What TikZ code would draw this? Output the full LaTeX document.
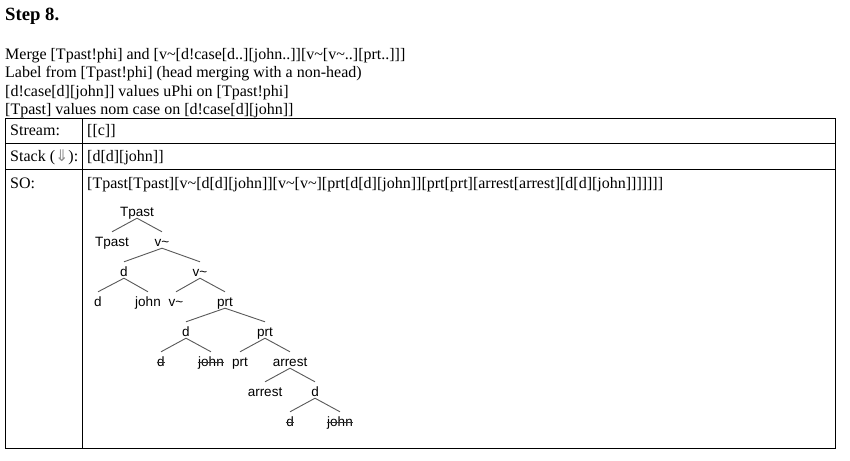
\documentclass[tikz,border=0pt]{standalone}
\usepackage{fontspec}
\setmainfont{Liberation Serif}
\newfontfamily\treefont{Liberation Sans}
\newfontfamily\symfont{DejaVu Sans}
\begin{document}
\begin{tikzpicture}[x=1pt,y=-1pt,
  txt/.style={anchor=base west, inner sep=0pt, font=\fontsize{16}{18}\selectfont},
  ttl/.style={anchor=base west, inner sep=0pt, font=\fontsize{18.7}{22}\selectfont\bfseries},
  tn/.style={anchor=base, inner sep=0pt, text height=14pt, text depth=2pt, font=\treefont\fontsize{13.5}{15}\selectfont, text=black},
  te/.style={draw=black!65, line width=0.9pt},
  strk/.style={draw=black!80, line width=0.7pt},
  gridline/.style={draw=black, line width=1pt}]
\useasboundingbox (0,0) rectangle (850,460);
\fill[white] (0,0) rectangle (850,460);

% header text
\node[ttl] (title) at (5,21) {Step 8.};
\node[txt] (l1) at (5,59.3) {Merge [Tpast!phi] and [v\textasciitilde[d!case[d..][john..]][v\textasciitilde[v\textasciitilde..][prt..]]]};
\node[txt] (l2) at (5,77.7) {Label from [Tpast!phi] (head merging with a non-head)};
\node[txt] (l3) at (5,96) {[d!case[d][john]] values uPhi on [Tpast!phi]};
\node[txt] (l4) at (5,114.4) {[Tpast] values nom case on [d!case[d][john]]};

% table
\draw[gridline] (5,118) rectangle (835.5,448);
\draw[gridline] (5,143) -- (835.5,143);
\draw[gridline] (5,169) -- (835.5,169);
\draw[gridline] (82,118) -- (82,448);

\node[txt] (streamlbl) at (10,135.5) {Stream:};
\node[txt] (streamval) at (87,135.5) {[[c]]};
\node[txt] (stacklbl) at (10,161.5) {Stack ({\symfont\color{black!45}⇓}):};
\node[txt] (stackval) at (87,161.5) {[d[d][john]]};
\node[txt] (solbl) at (10,188) {SO:};
\node[txt] (soval) at (87,188) {[Tpast[Tpast][v\textasciitilde[d[d][john]][v\textasciitilde[v\textasciitilde][prt[d[d][john]][prt[prt][arrest[arrest][d[d][john]]]]]]]};

% tree nodes
\node[tn] (t1) at (137,216) {Tpast};
\node[tn] (t2) at (112,246) {Tpast};
\node[tn] (v1) at (162,246) {v\textasciitilde};
\node[tn] (d1) at (124,276) {d};
\node[tn] (v2) at (200,276) {v\textasciitilde};
\node[tn] (d2) at (98,306) {d};
\node[tn] (j1) at (148,306) {john};
\node[tn] (v3) at (176,306) {v\textasciitilde};
\node[tn] (p1) at (225,306) {prt};
\node[tn] (d3) at (186,336) {d};
\node[tn] (p2) at (265,336) {prt};
\node[tn] (d4) at (161,366) {d};
\node[tn] (j2) at (211,366) {john};
\node[tn] (p3) at (240,366) {prt};
\node[tn] (a1) at (290,366) {arrest};
\node[tn] (a2) at (265,396) {arrest};
\node[tn] (d5) at (315,396) {d};
\node[tn] (d6) at (290,426) {d};
\node[tn] (j3) at (340,426) {john};

% tree edges
\foreach \p/\c in {t1/t2,t1/v1,v1/d1,v1/v2,d1/d2,d1/j1,v2/v3,v2/p1,p1/d3,p1/p2,d3/d4,d3/j2,p2/p3,p2/a1,a1/a2,a1/d5,d5/d6,d5/j3}
  \draw[te] (\p.south) -- (\c.north);

% strike-through of moved copies
\foreach \n in {d4,j2,d6,j3}
  \draw[strk] ([xshift=-0.5pt,yshift=3.5pt]\n.base west) -- ([xshift=0.5pt,yshift=3.5pt]\n.base east);
\end{tikzpicture}
\end{document}
